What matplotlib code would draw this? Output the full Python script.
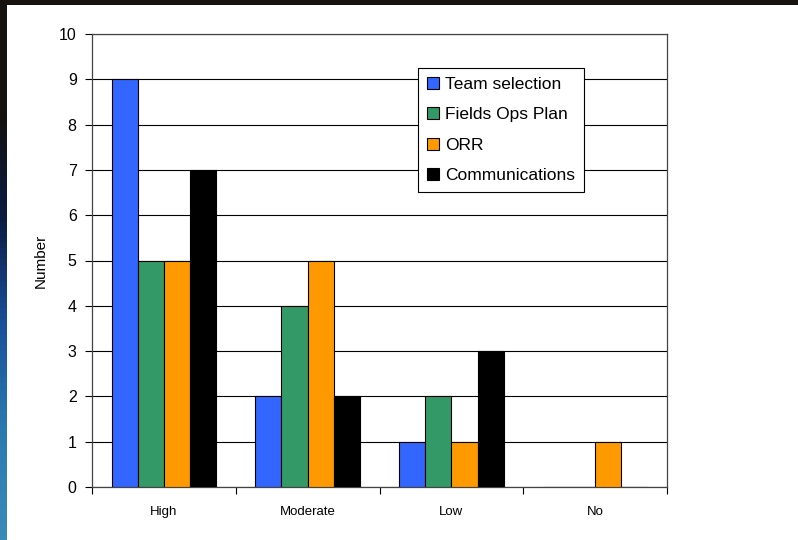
import matplotlib.pyplot as plt
import numpy as np
from matplotlib.patches import Rectangle
from matplotlib.colors import LinearSegmentedColormap

plt.rcParams['font.family'] = ['Liberation Sans', 'DejaVu Sans']

CATEGORIES = ["High", "Moderate", "Low", "No"]
SERIES = ["Team selection", "Fields Ops Plan", "ORR", "Communications"]
VALUES = [
    [9, 2, 1, 0],
    [5, 4, 2, 0],
    [5, 5, 1, 1],
    [7, 2, 3, 0],
]
COLORS = ["#3366FF", "#339966", "#FF9900", "#000000"]

fig = plt.figure(figsize=(7.98, 5.40), dpi=100, facecolor="#15120f")

# dark-to-blue strip on the left edge of the slide background
strip = fig.add_axes([0, 0, 7 / 798, 1], zorder=-10)
cmap = LinearSegmentedColormap.from_list(
    "bg", ["#15120f", "#15120f", "#0a1a40", "#1a4f9a", "#2a7ab0", "#3a8ab8"])
strip.imshow(np.linspace(0, 1, 100).reshape(-1, 1), aspect="auto", cmap=cmap)
strip.axis("off")

# white slide area inside the dark border
fig.patches.append(Rectangle((7 / 798, 0), 1, 535 / 540, transform=fig.transFigure,
                             facecolor="white", edgecolor="none", zorder=-5))

ax = fig.add_axes([92 / 798, 1 - 487 / 540, 575 / 798, 453 / 540])
ax.set_facecolor("white")

x = np.arange(len(CATEGORIES))
w = 1 / 5.5
for i, (name, vals) in enumerate(zip(SERIES, VALUES)):
    ax.bar(x + (i - 1.5) * w, vals, w, color=COLORS[i], edgecolor="black",
           linewidth=0.8, label=name, zorder=3)

ax.set_xlim(-0.5, 3.5)
ax.set_ylim(0, 10)
ax.set_yticks(range(0, 11))
ax.yaxis.grid(True, color="black", linewidth=0.8, zorder=0)
ax.set_xticks(np.arange(-0.5, 4, 1))
ax.set_xticklabels([])
ax.set_xticks(x, minor=True)
ax.set_xticklabels(CATEGORIES, minor=True, fontsize=9.5)
ax.tick_params(axis="x", which="minor", length=0, pad=14)
ax.tick_params(axis="x", which="major", length=5, direction="out")
ax.tick_params(axis="y", length=5, direction="out", labelsize=11.5, pad=6)
for s in ax.spines.values():
    s.set_color("#444444")
    s.set_linewidth(0.9)
ax.set_ylabel("Number", fontsize=11, labelpad=8)

leg = ax.legend(loc="upper left", bbox_to_anchor=(0.567, 0.925), fontsize=12.5,
                frameon=True, fancybox=False, edgecolor="black", framealpha=1,
                handlelength=0.7, handleheight=0.7, handletextpad=0.35,
                labelspacing=0.88, borderpad=0.5, borderaxespad=0)
leg.get_frame().set_linewidth(0.8)

fig.savefig("out.png", dpi=100, facecolor=fig.get_facecolor())
